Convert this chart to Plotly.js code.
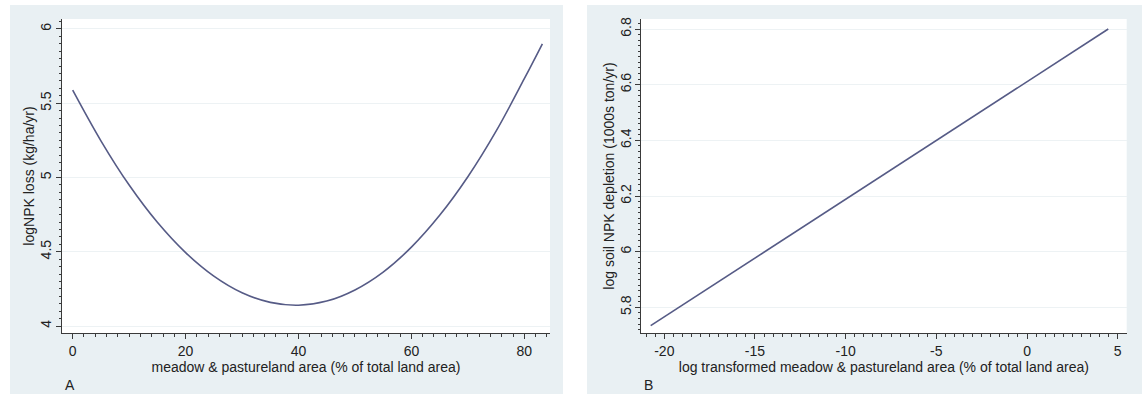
<!DOCTYPE html>
<html>
<head>
<meta charset="utf-8">
<script src="https://cdn.plot.ly/plotly-3.0.1.min.js"></script>
<style>html,body{margin:0;padding:0;background:#fff;}#chart{width:1142px;height:403px;}</style>
</head>
<body>
<div id="chart"></div>
<script>
// Panel A: logNPK loss vs meadow & pastureland area
const areaPct = [0, 5, 10, 15, 20, 25, 30, 35, 40, 45, 50, 55, 60, 65, 70, 75, 80, 83.2];
const logNPKLoss = [5.588, 5.247, 4.949, 4.698, 4.494, 4.336, 4.224, 4.159, 4.140, 4.168, 4.243, 4.363, 4.531, 4.745, 5.005, 5.312, 5.665, 5.900];
const xTicksA = [0, 20, 40, 60, 80];
const yTicksA = [4, 4.5, 5, 5.5, 6];

// Panel B: log soil NPK depletion vs log transformed area
const logArea = [-20.75, 4.48];
const logNPKDepletion = [5.734, 6.80];
const xTicksB = [-20, -15, -10, -5, 0, 5];
const xTickTextB = ['-20', '-15', '-10', '-5', '0', '5'];
const yTicksB = [5.8, 6, 6.2, 6.4, 6.6, 6.8];

const W = 1142, H = 403;
const px = v => v / W;
const py = v => 1 - v / H;

const lineColor = '#565b86';
const axisColor = '#3a3a3a';
const gridColor = '#edf2f4';
const panelBg = '#e9f0f3';
const font = {family: 'Liberation Sans, Arial, Helvetica, sans-serif', size: 14, color: '#222'};

const traces = [
  {x: areaPct, y: logNPKLoss, type: 'scatter', mode: 'lines', line: {color: lineColor, width: 1.6, shape: 'spline', smoothing: 1}, xaxis: 'x', yaxis: 'y', hoverinfo: 'x+y', showlegend: false},
  {x: logArea, y: logNPKDepletion, type: 'scatter', mode: 'lines', line: {color: lineColor, width: 1.6}, xaxis: 'x2', yaxis: 'y2', hoverinfo: 'x+y', showlegend: false}
];

function xAxis(domain, range, tickvals, ticktext, minorDtick, anchor, title) {
  const a = {
    domain: domain, range: range, anchor: anchor,
    tickmode: 'array', tickvals: tickvals,
    ticks: 'outside', ticklen: 5, tickwidth: 1, tickcolor: axisColor,
    showline: true, linecolor: axisColor, linewidth: 1,
    showgrid: false, zeroline: false,
    tickfont: {family: font.family, size: 14, color: '#222'},
    minor: {tickmode: 'linear', tick0: 0, dtick: minorDtick, ticks: 'outside', ticklen: 2.5, tickcolor: axisColor, showgrid: false},
    title: {text: title, font: {family: font.family, size: 14, color: '#222'}, standoff: 2},
    automargin: false, fixedrange: true
  };
  if (ticktext) a.ticktext = ticktext;
  return a;
}
function yAxis(domain, range, tickvals, minorDtick, anchor, title, labelShift) {
  return {
    domain: domain, range: range, anchor: anchor,
    tickmode: 'array', tickvals: tickvals, tickangle: -90,
    ticks: 'outside', ticklen: 5, tickwidth: 1, tickcolor: axisColor,
    showline: true, linecolor: axisColor, linewidth: 1,
    showgrid: true, gridcolor: gridColor, gridwidth: 1, zeroline: false,
    ticklabelstandoff: labelShift,
    tickfont: {family: font.family, size: 14, color: '#222'},
    minor: {tickmode: 'linear', tick0: 0, dtick: minorDtick, ticks: 'outside', ticklen: 2.5, tickcolor: axisColor, showgrid: false},
    title: {text: title, font: {family: font.family, size: 14, color: '#222'}, standoff: 0},
    automargin: false, fixedrange: true
  };
}

const yDom = [py(333), py(19)];
const layout = {
  width: W, height: H,
  margin: {l: 0, r: 0, t: 0, b: 0, pad: 0},
  paper_bgcolor: '#ffffff',
  plot_bgcolor: '#ffffff',
  font: font,
  showlegend: false,
  xaxis: xAxis([px(62), px(550)], [-1.895, 84.55], xTicksA, null, 2, 'y', 'meadow &amp; pastureland area (% of total land area)'),
  yaxis: yAxis(yDom, [3.953, 6.067], yTicksA, 0.05, 'x', 'logNPK loss (kg/ha/yr)', -1),
  xaxis2: xAxis([px(641), px(1126.7)], [-21.285, 5.496], xTicksB, xTickTextB, 0.5, 'y2', 'log transformed meadow &amp; pastureland area (% of total land area)'),
  yaxis2: yAxis(yDom, [5.7077, 6.836], yTicksB, 0.02, 'x2', 'log soil NPK depletion (1000s ton/yr)', -2),
  shapes: [
    {type: 'rect', xref: 'paper', yref: 'paper', x0: px(10), x1: px(563), y0: py(394), y1: py(5), fillcolor: panelBg, line: {width: 0}, layer: 'below'},
    {type: 'rect', xref: 'paper', yref: 'paper', x0: px(587), x1: 1, y0: py(394), y1: py(5), fillcolor: panelBg, line: {width: 0}, layer: 'below'},
    {type: 'rect', xref: 'paper', yref: 'paper', x0: px(62), x1: px(550), y0: py(333), y1: py(19), fillcolor: '#ffffff', line: {width: 0}, layer: 'below'},
    {type: 'rect', xref: 'paper', yref: 'paper', x0: px(641), x1: px(1126.7), y0: py(333), y1: py(19), fillcolor: '#ffffff', line: {width: 0}, layer: 'below'}
  ],
  annotations: [
    {text: 'A', xref: 'paper', yref: 'paper', x: px(70), y: py(385), xanchor: 'center', yanchor: 'middle', showarrow: false, font: {family: font.family, size: 14, color: '#222'}},
    {text: 'B', xref: 'paper', yref: 'paper', x: px(648), y: py(385), xanchor: 'center', yanchor: 'middle', showarrow: false, font: {family: font.family, size: 14, color: '#222'}}
  ]
};

Plotly.newPlot('chart', traces, layout, {displayModeBar: false, staticPlot: true});
</script>
</body>
</html>
